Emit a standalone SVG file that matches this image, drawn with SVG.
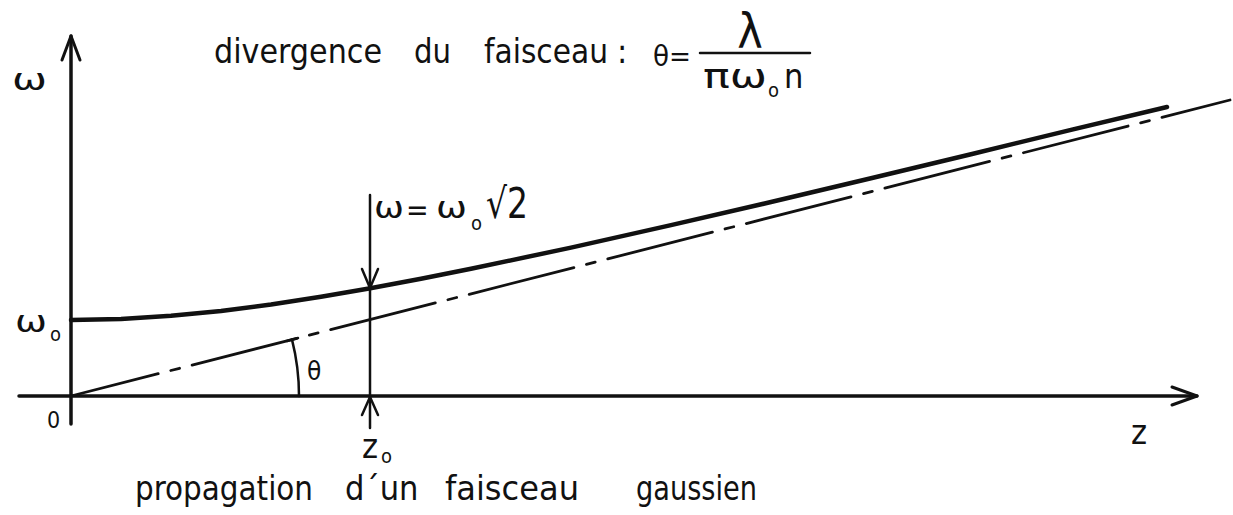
<svg xmlns="http://www.w3.org/2000/svg" width="1233" height="515" viewBox="0 0 1233 515">
<style>
  .t { font-family: "DejaVu Sans Condensed", "DejaVu Sans", sans-serif; fill: #111; }
  .ln { stroke: #111; fill: none; stroke-linecap: round; stroke-linejoin: round; }
</style>
<rect width="1233" height="515" fill="#fff"/>
<g id="axes">
  <line class="ln" x1="71" y1="36" x2="71" y2="424" stroke-width="3.5"/>
  <polyline class="ln" points="62,60 71,36 80,60" stroke-width="3"/>
  <line class="ln" x1="19" y1="396" x2="1197" y2="396" stroke-width="3.5"/>
  <polyline class="ln" points="1172,387 1197,396 1172,405" stroke-width="3"/>
</g>
<g id="connectors">
  <path id="asymptote" class="ln" d="M71,396 L1230,100" stroke-width="2.8" stroke-dasharray="108 13 9 13" stroke-dashoffset="18" stroke-linecap="butt"/>
  <polyline id="beam" class="ln" stroke-width="4.5" points="71,320 121,318.9 171,315.8 221,310.9 271,304.5 321,296.8 369,288.5 421,278.8 471,268.8 571,247.6 671,225.1 771,202 871,178.3 971,154.2 1071,129.9 1167,107"/>
  <line id="z0-line" class="ln" x1="370" y1="195" x2="370" y2="428" stroke-width="2.5"/>
  <polyline class="ln" points="362,269 370,288 378,269" stroke-width="2.5"/>
  <polyline class="ln" points="362,415 370,397 378,415" stroke-width="2.5"/>
  <path id="theta-arc" class="ln" d="M299,396 A228,228 0 0 0 292,339.6" stroke-width="2.5"/>
  <line class="ln" x1="287" y1="341" x2="298" y2="338" stroke-width="2.5"/>
</g>
<g id="label-omega-axis"><text class="t" x="12" y="90" font-size="30" textLength="35" lengthAdjust="spacingAndGlyphs">ω</text></g>
<g id="label-omega0">
  <text class="t" x="15" y="332" font-size="30" textLength="32" lengthAdjust="spacingAndGlyphs">ω</text>
  <text class="t" x="50" y="341" font-size="20">o</text>
</g>
<g id="label-origin"><text class="t" x="47" y="428" font-size="23">0</text></g>
<g id="label-z"><text class="t" x="1131" y="444" font-size="34">z</text></g>
<g id="label-z0">
  <text class="t" x="362" y="458" font-size="34">z</text>
  <text class="t" x="381" y="463" font-size="20">o</text>
</g>
<g id="label-theta"><text class="t" x="307" y="380" font-size="26">θ</text></g>
<g id="label-waist">
  <text class="t" x="374" y="218" font-size="30" textLength="30" lengthAdjust="spacingAndGlyphs">ω</text>
  <text class="t" x="406" y="220" font-size="30">=</text>
  <text class="t" x="436" y="218" font-size="30" textLength="31" lengthAdjust="spacingAndGlyphs">ω</text>
  <text class="t" x="471" y="230" font-size="20">o</text>
  <text class="t" x="486" y="218" font-size="42" textLength="42" lengthAdjust="spacingAndGlyphs">√2</text>
</g>
<g id="title">
  <text class="t" x="214" y="63" font-size="34" textLength="168" lengthAdjust="spacingAndGlyphs">divergence</text>
  <text class="t" x="414" y="63" font-size="34" textLength="37" lengthAdjust="spacingAndGlyphs">du</text>
  <text class="t" x="484" y="63" font-size="34" textLength="124" lengthAdjust="spacingAndGlyphs">faisceau</text>
  <text class="t" x="617" y="63" font-size="34">:</text>
  <text class="t" x="653" y="66" font-size="29" textLength="38" lengthAdjust="spacingAndGlyphs">θ=</text>
  <line class="ln" x1="700" y1="53" x2="810" y2="53" stroke-width="2.5"/>
  <text class="t" x="750" y="48" font-size="48" text-anchor="middle">λ</text>
  <text class="t" x="703" y="88" font-size="34" textLength="64" lengthAdjust="spacingAndGlyphs">πω</text>
  <text class="t" x="768" y="97" font-size="20">o</text>
  <text class="t" x="784" y="88" font-size="34">n</text>
</g>
<g id="caption">
  <text class="t" x="135" y="500" font-size="34" textLength="178" lengthAdjust="spacingAndGlyphs">propagation</text>
  <text class="t" x="345" y="500" font-size="34">d´un</text>
  <text class="t" x="445" y="500" font-size="34" textLength="134" lengthAdjust="spacingAndGlyphs">faisceau</text>
  <text class="t" x="636" y="500" font-size="34" textLength="121" lengthAdjust="spacingAndGlyphs">gaussien</text>
</g>
</svg>
